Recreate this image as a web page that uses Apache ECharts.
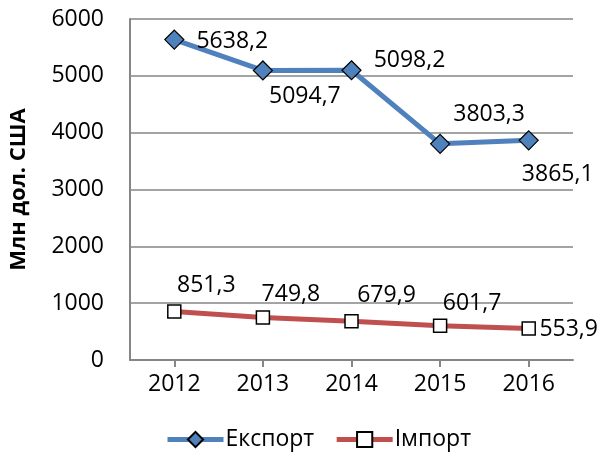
<!DOCTYPE html>
<html><head><meta charset="utf-8">
<script src="https://cdn.jsdelivr.net/npm/echarts@6/dist/echarts.min.js"></script>
<style>html,body{margin:0;padding:0;background:#fff}#c{width:601px;height:459px}</style>
</head><body><div id="c"></div>
<script>
const categories = ['2012','2013','2014','2015','2016'];
const exportValues = [5638.2, 5094.7, 5098.2, 3803.3, 3865.1];
const importValues = [851.3, 749.8, 679.9, 601.7, 553.9];
const yTicks = [0,1000,2000,3000,4000,5000,6000];

const exportOffsets = [[58,2],[42,26],[58,-10],[49,-29],[29,34]];
const importOffsets = [[32,-26],[28,-23],[35,-26],[32,-22],[40,1]];
const FONT = 'Open Sans';
const FS = 23;
const fmt = v => String(v).replace('.', ',');

const chart = echarts.init(document.getElementById('c'));
chart.setOption({
  animation: false,
  textStyle: {fontFamily: FONT},
  grid: {left: 127, right: 28, top: 19, bottom: 99},
  xAxis: {
    type: 'category', data: categories, boundaryGap: true,
    axisLine: {lineStyle: {color: '#868686', width: 2}},
    axisTick: {show: true, alignWithLabel: true, length: 7, lineStyle: {color: '#868686', width: 2}},
    axisLabel: {color: '#000', fontSize: FS, fontFamily: FONT, margin: 13}
  },
  yAxis: {
    type: 'value', min: yTicks[0], max: yTicks[yTicks.length-1], interval: 1000,
    name: 'Млн дол. США', nameLocation: 'middle', nameGap: 100,
    nameTextStyle: {color: '#000', fontSize: 22, fontWeight: 'bold', fontFamily: FONT},
    axisLine: {show: true, lineStyle: {color: '#868686', width: 2}},
    axisTick: {show: false},
    splitLine: {lineStyle: {color: '#868686', width: 1.5}},
    axisLabel: {color: '#000', fontSize: FS, fontFamily: FONT, margin: 26, formatter: v => String(v)}
  },
  legend: {
    bottom: 3, left: 160, itemWidth: 56, itemHeight: 19, itemGap: 20,
    lineStyle: {width: 5},
    textStyle: {color: '#000', fontSize: FS, fontFamily: FONT, padding: [0,0,0,-3]},
    data: ['Експорт', 'Імпорт']
  },
  series: [
    {
      name: 'Експорт', type: 'line',
      data: exportValues.map((v,i) => ({value: v, label: {offset: exportOffsets[i]}})),
      symbol: 'diamond', symbolSize: 19,
      lineStyle: {color: '#4F81BD', width: 5},
      itemStyle: {color: '#4F81BD', borderColor: '#000', borderWidth: 1.2},
      label: {show: true, position: 'inside', color: '#000', fontSize: FS, fontFamily: FONT,
        formatter: p => fmt(p.value)}
    },
    {
      name: 'Імпорт', type: 'line',
      data: importValues.map((v,i) => ({value: v, label: {offset: importOffsets[i]}})),
      symbol: 'rect', symbolSize: 13,
      lineStyle: {color: '#C0504D', width: 5},
      itemStyle: {color: '#fff', borderColor: '#000', borderWidth: 1.5},
      label: {show: true, position: 'inside', color: '#000', fontSize: FS, fontFamily: FONT,
        formatter: p => fmt(p.value)}
    }
  ]
});
</script></body></html>
